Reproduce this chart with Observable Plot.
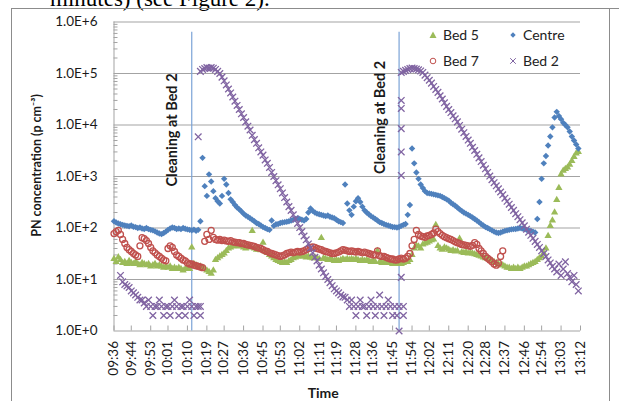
<!DOCTYPE html>
<html><head><meta charset="utf-8">
<script src="https://cdn.jsdelivr.net/npm/d3@7"></script>
<script src="https://cdn.jsdelivr.net/npm/@observablehq/plot@0.6"></script>
<style>
html,body{margin:0;padding:0;background:#fff;}
#wrap{position:relative;width:619px;height:401px;overflow:hidden;font-family:Lato,sans-serif;}
#chart{position:absolute;left:0;top:0;}
#deco{position:absolute;left:0;top:0;pointer-events:none;}
#legend{position:absolute;left:0;top:0;width:619px;height:401px;pointer-events:none;}
.li{position:absolute;font:14px Lato,sans-serif;color:#222;white-space:nowrap;line-height:16px;}
.li svg{position:absolute;left:-15px;top:3px;}
</style></head>
<body><div id="wrap"><div id="chart"></div>
<svg id="deco" width="619" height="401">
<text x="50" y="6" font-family="Liberation Serif, Times New Roman, serif" font-size="23" fill="#000">minutes) (see Figure 2).</text>
<line x1="11" y1="8.5" x2="619" y2="8.5" stroke="#8c8c8c"/>
<line x1="11.5" y1="8" x2="11.5" y2="401" stroke="#8c8c8c"/>
<line x1="609.5" y1="8" x2="609.5" y2="401" stroke="#8c8c8c"/>
</svg>
<div id="legend"></div></div>
<script>
// ---- data (one value per minute from the series' start time) ----
const seriesNames = ["Bed 5", "Centre", "Bed 7", "Bed 2"];
const seriesColors = ["#9bbb59", "#4f81bd", "#c0504d", "#8064a2"];
const seriesStart = ["09:36", "09:36", "09:36", "09:39"];

const bed5 = [25,22,27,24,21,22,20,23,21,20, 22,20,19,21,20,19,20,18,19,20,
18,19,18,17,18,17,18,16,17,16, 17,16,15,16,17,16,42,20,19,18,
18,17,16,15,14,13,15,24,26,28, 30,32,36,40,42,44,45,46,44,45,
42,40,42,44,88,40,38,38,37,52, 35,33,30,28,26,24,23,22,21,22,
21,23,24,26,27,28,28,29,28,27, 28,27,26,27,26,25,64,26,25,24,
25,24,23,24,23,24,25,24,25,24, 25,24,25,24,23,24,23,24,23,22,
23,22,36,22,21,22,21,22,21,20, 21,20,21,20,21,22,22,24,30,40,
46,44,40,48,50,52,55,58,60,115, 45,40,38,42,40,38,36,37,35,36,
62,34,33,34,32,33,32,31,30,29, 28,27,26,25,24,23,22,21,20,19,
19,18,17,17,16,17,16,17,16,17, 18,18,19,20,21,22,24,26,28,32,
40,70,110,140,200,350,600,1100,1300,1400, 1500,1700,2000,2400,2800,3000];

const centre = [135,128,122,118,115,112,110,108,112,106, 104,100,102,98,96,100,95,92,90,86,
82,78,76,80,85,92,98,102,100,96, 98,95,100,97,94,92,90,93,88,92,
135,2300,650,420,1100,800,520,380,330,300, 420,900,700,480,360,320,280,250,230,210,
190,175,165,155,145,135,125,120,112,105, 100,95,92,140,110,118,120,125,128,130,
132,135,140,145,150,155,150,145,140,150, 200,240,215,200,190,185,180,175,170,175,
165,160,155,145,135,130,125,700,300,220, 180,260,330,380,320,260,220,200,185,170,
160,150,140,130,125,120,115,112,108,105, 104,102,105,110,115,120,180,280,3500,1800,
1200,900,700,600,520,480,470,460,450,440, 430,420,400,380,360,340,310,290,270,250,
230,215,200,190,180,170,160,150,140,130, 120,112,105,100,95,90,85,82,80,82,
85,88,90,92,94,95,96,98,100,98, 95,92,90,88,85,82,150,320,900,1800,
2500,4000,6000,9000,14000,18000,15000,13000,11000,10000, 9000,7500,6000,5000,4200,3500];

const bed7 = [78,85,90,75,60,50,42,38,35,32, 30,28,45,65,62,57,50,42,36,33,
30,28,26,24,23,40,45,42,35,30, 28,26,24,23,21,20,20,19,18.5,18,
17.5,17,55,75,60,90,66,60,58,60, 57,58,56,55,57,54,53,52,52,50,
50,48,47,46,45,44,42,41,40,38, 36,35,33,32,31,30,29,28,29,30,
32,33,34,33,34,35,34,35,36,38, 40,42,43,42,40,39,38,36,35,34,
33,32,32,33,34,36,38,37,36,35, 36,35,34,35,34,33,34,33,32,31,
30,30,36,29,28,28,27,26,25,25, 24,24,25,26,25,26,28,32,45,60,
90,75,70,68,66,70,72,75,80,95, 85,78,72,68,65,62,60,57,54,52,
50,48,47,46,45,44,46,52,48,40, 36,32,28,26,24,22,20,19,21,28,
36];

const bed2 = [12,9,8,7.5,7,6,5.5, 5,4.5,4,4,3.5,3,4,3,2,3,
3,4,3,2,3,3,2,3,4,3, 2,3,3,2,3,4,3,2,3,3,
110000,120000,125000,130000,128000,130000,127000,120000,110000,100000,
85000,72000,60000,50000,42000,35000,29000,24000,20000,16500,
14000,11500,9500,8000,6300,5200,4400,3600,3000,2600,
2100,1800,1500,1200,1000,830,690,580,480,390,
320,260,220,180,150,123,102,85,70,59,
49,41,33,27,23,19,16,13.5,11.5,10,
8.7,7.6,6.6,6,5.5,5,4.6,4.5,4,3,
4,3,2,3,4,3,3,2,3,4, 3,2,3,5,3,2,3,4,3,2,
3,2,3,105000,110000,115000,120000,125000,128000,125000,
122000,118000,112000,105000,93000,83000,74000,65000,56000,49000,
43000,37000,32000,27000,23000,20000,17400,15100,13200,11500,
9800,8300,7100,6000,5100,4400,3700,3200,2700,2300,
1950,1660,1410,1200,1020,870,760,660,575,500,
440,380,330,290,250,220,190,166,145,126,
110,95,83,72,63,55,48,42,36,32,
28,24,21,18,16,14,20,12,16,22, 13,11,9,12,8,6];

// extra Bed 2 readings stacked at the same minute
const bed2ExtraTimes = ["10:15","10:16","10:16","11:48","11:49","11:49","11:49","11:49","11:49","11:49","11:50","11:50"];
const bed2ExtraValues = [5900, 2, 3, 1, 30000, 21000, 8500, 3000, 1050, 11, 2, 3];

const cleaningTimes = ["10:12", "11:48"];
const cleaningLabel = "Cleaning at Bed 2";
const xTickLabels = ["09:36","09:44","09:53","10:01","10:10","10:19","10:27","10:36","10:45","10:53","11:02","11:11","11:19","11:28","11:36","11:45","11:54","12:02","12:11","12:20","12:28","12:37","12:46","12:54","13:03","13:12"];
const yTickValues = [1, 10, 100, 1000, 10000, 100000, 1000000];
const xDomain = ["09:36", "13:12"];
const yTitle = "PN concentration (p cm\u207B\u00B3)";
const xTitle = "Time";

// ---- build ----
const T = (hm) => { const [h, m] = hm.split(":").map(Number); return new Date(Date.UTC(2010, 0, 1, h, m)); };
const build = (name, start, vals) => { const t0 = +T(start); return vals.map((v, i) => ({name, time: new Date(t0 + i * 60000), value: v})); };
const allValues = [bed5, centre, bed7, bed2];
const tables = seriesNames.map((n, k) => build(n, seriesStart[k], allValues[k]));
tables[3] = tables[3].concat(bed2ExtraTimes.map((t, i) => ({name: "Bed 2", time: T(t), value: bed2ExtraValues[i]})));

const minorTicks = [];
for (const p of yTickValues.slice(0, -1)) for (let m = 2; m <= 9; m++) minorTicks.push(p * m);

const grid = "#a3a3a3";
const txt = "#1a1a1a";
const fmtY = d => "1.0E+" + Math.round(Math.log10(d));
const fmtX = d3.utcFormat("%H:%M");

const chart = Plot.plot({
  width: 619, height: 401,
  marginLeft: 113.5, marginRight: 39, marginTop: 21.5, marginBottom: 70.5,
  style: {fontFamily: "Lato, sans-serif", fontSize: "13.5px", background: "transparent", color: txt},
  x: {type: "utc", domain: xDomain.map(T)},
  y: {type: "log", domain: [yTickValues[0], yTickValues[yTickValues.length - 1]]},
  marks: [
    Plot.gridY(yTickValues, {stroke: grid, strokeOpacity: 1}),
    Plot.ruleX([T(xDomain[0])], {stroke: grid}),
    Plot.axisY({ticks: yTickValues, tickFormat: fmtY, tickSize: 0, tickPadding: 16.5, label: null, fill: txt, fontSize: 13.5}),
    Plot.axisY({ticks: minorTicks, tickFormat: () => "", tickSize: -4, label: null, stroke: grid}),
    Plot.axisX({ticks: xTickLabels.map(T), tickFormat: () => "", tickSize: -5, label: null, stroke: grid}),
    Plot.axisX({ticks: xTickLabels.map(T), tickFormat: fmtX, tickSize: 0, tickPadding: 10, tickRotate: -90, label: null, fill: txt, fontSize: 13.5}),
    Plot.ruleX(cleaningTimes.map(T), {y1: yTickValues[0], y2: 6.3e5, stroke: "#7ba3d6", strokeWidth: 1.2}),
    Plot.dot(tables[0], {x: "time", y: "value", symbol: "triangle", r: 2.7, fill: seriesColors[0], stroke: "none"}),
    Plot.dot(tables[1], {x: "time", y: "value", symbol: "diamond2", r: 2.9, fill: seriesColors[1], stroke: "none"}),
    Plot.dot(tables[2], {x: "time", y: "value", symbol: "circle", r: 3, fill: "none", stroke: seriesColors[2], strokeWidth: 1.3}),
    Plot.dot(tables[3], {x: "time", y: "value", symbol: "times", r: 3.1, fill: "none", stroke: seriesColors[3], strokeWidth: 1.3}),
    Plot.text(cleaningTimes, {x: d => T(d), y: (d, i) => [8000, 14000][i], text: () => cleaningLabel, rotate: -90, dx: -19, fontWeight: "bold", fontSize: 14.5, fill: txt, textAnchor: "middle"}),
    Plot.text([yTitle], {frameAnchor: "left", rotate: -90, dx: -77.5, dy: -11, fontWeight: "bold", fontSize: 12.5, fill: txt, textAnchor: "middle", lineAnchor: "middle"}),
    Plot.text([xTitle], {frameAnchor: "bottom", dx: -24, dy: 62.5, fontWeight: "bold", fontSize: 14, fill: txt, textAnchor: "middle", lineAnchor: "middle"})
  ]
});
document.getElementById("chart").appendChild(chart);

// legend
const legendPos = [[443, 27], [523, 27], [443, 53], [523, 53]];
const symbolSvg = [
  c => `<svg width="10" height="10"><path d="M5,1.5L8.5,8H1.5Z" fill="${c}"/></svg>`,
  c => `<svg width="10" height="10"><path d="M5,2.3L7.7,5L5,7.7L2.3,5Z" fill="${c}"/></svg>`,
  c => `<svg width="10" height="10"><circle cx="5" cy="5" r="2.8" fill="none" stroke="${c}"/></svg>`,
  c => `<svg width="10" height="10"><path d="M2.2,2.2L7.8,7.8M7.8,2.2L2.2,7.8" stroke="${c}"/></svg>`
];
const lg = document.getElementById("legend");
seriesNames.forEach((n, i) => {
  const d = document.createElement("div");
  d.className = "li";
  d.style.left = legendPos[i][0] + "px";
  d.style.top = legendPos[i][1] + "px";
  d.innerHTML = symbolSvg[i](seriesColors[i]) + n;
  lg.appendChild(d);
});
</script></body></html>
